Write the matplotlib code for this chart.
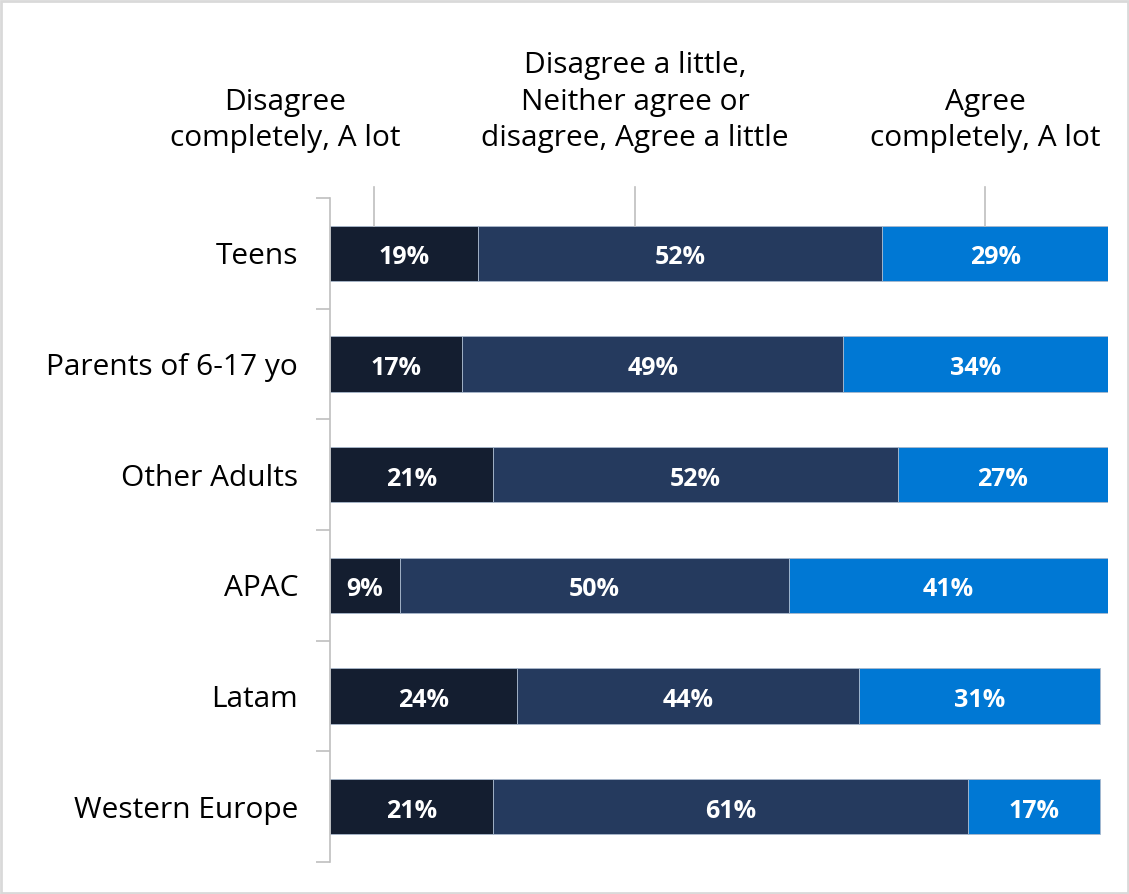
import matplotlib.pyplot as plt
from matplotlib.patches import Rectangle

categories = ["Teens", "Parents of 6-17 yo", "Other Adults", "APAC", "Latam", "Western Europe"]
disagree = [19, 17, 21, 9, 24, 21]
neutral = [52, 49, 52, 50, 44, 61]
agree = [29, 34, 27, 41, 31, 17]
series = [disagree, neutral, agree]
colors = ["#141E30", "#253A5E", "#0078D4"]
headers = ["Disagree\ncompletely, A lot",
           "Disagree a little,\nNeither agree or\ndisagree, Agree a little",
           "Agree\ncompletely, A lot"]

plt.rcParams['font.family'] = ['Open Sans', 'DejaVu Sans']

W, H = 1129, 894
fig = plt.figure(figsize=(W / 100, H / 100), dpi=100)
ax = fig.add_axes([330 / W, 1 - 862 / H, (1108 - 330) / W, (862 - 198) / H])

y = list(range(len(categories)))
left = [0] * len(categories)
for vals, col in zip(series, colors):
    ax.barh(y, vals, left=left, height=0.5, color=col, edgecolor="#A9B8CC", linewidth=0.6)
    for yi, (l, v) in enumerate(zip(left, vals)):
        ax.text(l + v / 2, yi + 0.04, f"{v}%", ha="center", va="center",
                color="white", fontsize=18, fontweight="bold")
    left = [l + v for l, v in zip(left, vals)]

ax.set_xlim(0, 100)
ax.set_ylim(len(categories) - 0.5, -0.5)
ax.set_yticks(y)
ax.set_yticklabels(categories, fontsize=21.5)
ax.set_yticks([i - 0.5 for i in range(len(categories) + 1)], minor=True)
ax.tick_params(axis="y", which="major", length=0, pad=23, colors="black")
ax.tick_params(axis="y", which="minor", length=10, color="#BFBFBF", width=1.2)
ax.set_xticks([])
for s in ["top", "right", "bottom"]:
    ax.spines[s].set_visible(False)
ax.spines["left"].set_color("#BFBFBF")
ax.spines["left"].set_linewidth(1.2)

# column headers with leader lines
header_x = [285, 635, 985]
line_x = [374, 635, 985]
for hx, lx, txt in zip(header_x, line_x, headers):
    fig.text(hx / W, 1 - 153 / H, txt, ha="center", va="bottom", fontsize=21.5,
             linespacing=1.33)
    fig.add_artist(plt.Line2D([lx / W, lx / W], [1 - 187 / H, 1 - 226 / H],
                              color="#BFBFBF", linewidth=1.2))

# figure border
fig.add_artist(Rectangle((0.001, 0.001), 0.998, 0.998, transform=fig.transFigure,
                         fill=False, edgecolor="#D9D9D9", linewidth=2))

fig.savefig("out.png", dpi=100)
